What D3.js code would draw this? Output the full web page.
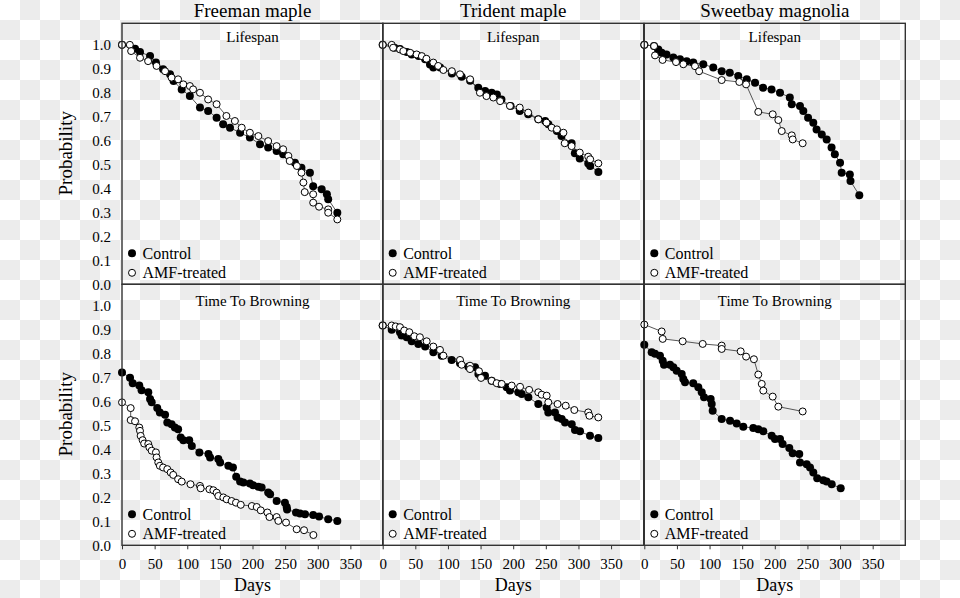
<!DOCTYPE html>
<html><head><meta charset="utf-8">
<script src="https://cdn.jsdelivr.net/npm/d3@7"></script>
<style>
body{margin:0;background:#fff}
svg{display:block}
text{font-family:"Liberation Serif","Times New Roman",serif;fill:#000}
</style>
</head><body>
<svg id="chart" width="960" height="598"></svg>
<script>
// ---------------- data ----------------
const species = ["Freeman maple", "Trident maple", "Sweetbay magnolia"];
const measures = ["Lifespan", "Time To Browning"];
const seriesNames = ["Control", "AMF-treated"];
const xTicks = [0, 50, 100, 150, 200, 250, 300, 350];
const yTickLabels = ["0.0","0.1","0.2","0.3","0.4","0.5","0.6","0.7","0.8","0.9","1.0"];

// [days, probability]
const freemanLifeControl = [[0,1.0],[20,0.984],[27.6,0.97],[43,0.953],[52,0.926],[63,0.898],[73.6,0.877],[79,0.849],[91.5,0.814],[104,0.786],[119.5,0.738],[132,0.724],[145,0.696],[155,0.668],[165.5,0.654],[181,0.633],[196,0.613],[211.5,0.585],[224,0.571],[237,0.557],[247,0.543],[265,0.508],[275,0.487],[288,0.466],[293,0.41],[306,0.397],[314,0.376],[316,0.355],[330,0.299]];
const freemanLifeAMF = [[0,1.0],[12,1.0],[14,0.974],[27.6,0.946],[40,0.932],[53,0.912],[66,0.89],[76,0.863],[86,0.856],[94,0.835],[104,0.828],[109,0.814],[119.5,0.80],[132,0.772],[145,0.752],[160,0.703],[173,0.682],[183.5,0.654],[196,0.633],[209,0.619],[224,0.598],[237,0.577],[247,0.564],[255,0.536],[257,0.515],[268,0.494],[275,0.466],[278,0.425],[280,0.385],[293,0.376],[293,0.341],[302,0.324],[316,0.313],[316,0.299],[330,0.271]];
const tridentLifeControl = [[0,1.0],[18,0.988],[26.5,0.983],[37,0.97],[44.5,0.96],[55,0.953],[65,0.94],[72.5,0.918],[77.6,0.905],[88,0.905],[106,0.88],[121,0.867],[134,0.85],[146.5,0.821],[157,0.807],[167,0.80],[175,0.793],[182,0.772],[196,0.745],[210,0.724],[223,0.71],[238.5,0.689],[249,0.682],[254,0.668],[267,0.64],[274,0.619],[289.5,0.589],[294.5,0.547],[302,0.525],[315,0.505],[318,0.494],[330.5,0.469]];
const tridentLifeAMF = [[0,1.0],[13.8,1.0],[16,0.988],[26.5,0.981],[31.6,0.974],[42,0.967],[52,0.96],[60,0.953],[67,0.942],[77.6,0.926],[85,0.912],[93,0.895],[106,0.89],[118.5,0.877],[134,0.856],[149,0.80],[159,0.786],[169.5,0.78],[180,0.765],[195,0.745],[210,0.738],[223,0.717],[238.5,0.689],[251,0.675],[259,0.654],[267,0.647],[277,0.633],[279,0.589],[289.5,0.577],[302,0.55],[315,0.533],[318,0.522],[330.5,0.505]];
const sweetbayLifeControl = [[0,1.0],[14.9,0.995],[21.5,0.981],[26.6,0.967],[34,0.96],[44.5,0.947],[54.7,0.94],[65,0.932],[75,0.926],[90.4,0.919],[105.7,0.905],[118.6,0.89],[131,0.884],[144,0.87],[157,0.856],[169.7,0.842],[182,0.821],[195,0.814],[208,0.80],[223,0.78],[226,0.752],[238.6,0.745],[243.7,0.724],[251,0.696],[259,0.675],[264,0.647],[272,0.626],[279.5,0.605],[287,0.571],[292,0.543],[300,0.508],[302.5,0.466],[315,0.459],[316,0.431],[329.5,0.372]];
const sweetbayLifeAMF = [[0,1.0],[15,0.995],[16.4,0.956],[28,0.937],[48.6,0.928],[59.8,0.919],[77.7,0.911],[84,0.89],[118.6,0.853],[145.6,0.845],[156,0.835],[174.7,0.72],[196.8,0.71],[205.4,0.686],[210.6,0.64],[226,0.622],[227.4,0.605],[242.7,0.589]];
const freemanBrownControl = [[0,0.722],[12.3,0.70],[16.4,0.677],[26.5,0.667],[30,0.648],[40.3,0.639],[43,0.611],[45.5,0.597],[54,0.573],[58,0.555],[66,0.545],[69.4,0.513],[76,0.506],[81,0.492],[86,0.485],[90,0.45],[94,0.439],[103,0.439],[107,0.415],[118.6,0.388],[132.5,0.381],[135,0.367],[147.6,0.36],[150.4,0.346],[163,0.332],[170,0.325],[175,0.286],[181,0.266],[186,0.262],[196,0.258],[201,0.251],[209,0.244],[214,0.241],[224,0.22],[227,0.213],[237,0.185],[249.7,0.178],[252.4,0.16],[253,0.15],[266.7,0.137],[272.8,0.133],[280.5,0.13],[293,0.127],[302,0.12],[316,0.109],[330,0.102]];
const freemanBrownAMF = [[0,0.597],[13.3,0.573],[13.3,0.523],[20,0.518],[26.5,0.492],[27.6,0.478],[28.6,0.457],[31.6,0.439],[34,0.425],[40.3,0.423],[42,0.409],[45.5,0.395],[52,0.388],[53,0.367],[55.6,0.346],[58,0.332],[63,0.325],[69.4,0.318],[74.6,0.304],[78.5,0.294],[86,0.276],[91.5,0.266],[105,0.255],[119.5,0.248],[120.6,0.238],[134,0.234],[140,0.23],[145,0.22],[147.6,0.206],[155.3,0.20],[160.4,0.192],[168,0.185],[174.7,0.178],[182,0.169],[199,0.164],[206.5,0.16],[212.6,0.146],[222.8,0.137],[226,0.118],[237,0.118],[239.6,0.102],[251.4,0.095],[267.7,0.067],[279,0.063],[293.3,0.043]];
const tridentBrownControl = [[0,0.918],[13.8,0.90],[26.5,0.89],[29,0.876],[36.8,0.869],[44.4,0.852],[54.6,0.841],[65,0.83],[77.6,0.806],[90.4,0.792],[105.7,0.774],[118.5,0.76],[131.2,0.746],[141.5,0.744],[146.6,0.715],[156.8,0.708],[167,0.687],[179.8,0.674],[190,0.66],[195,0.646],[207.8,0.639],[213,0.632],[223.2,0.618],[238.5,0.59],[251.3,0.576],[253.8,0.555],[264,0.555],[268,0.534],[274.3,0.527],[279.4,0.513],[289.7,0.506],[294.7,0.481],[302.4,0.476],[317.7,0.457],[330.4,0.448]];
const tridentBrownAMF = [[0,0.918],[13.8,0.918],[20,0.914],[26.5,0.911],[33,0.897],[40.8,0.89],[48.5,0.873],[57,0.869],[67.4,0.852],[77.6,0.83],[87.8,0.816],[93,0.792],[118.5,0.774],[121,0.754],[133.8,0.75],[133.8,0.736],[147.6,0.727],[150.7,0.699],[167,0.687],[174.7,0.677],[182.4,0.674],[197.7,0.667],[210.5,0.662],[224.4,0.649],[238.5,0.639],[243.7,0.629],[251.3,0.625],[253.8,0.597],[268,0.59],[280.5,0.583],[293.7,0.565],[315,0.555],[316.8,0.541],[330.4,0.534]];
const sweetbayBrownControl = [[0,0.838],[11.3,0.806],[16.4,0.80],[24,0.792],[28.2,0.771],[30.2,0.754],[39.4,0.754],[44.5,0.744],[49.6,0.729],[57.3,0.715],[59.8,0.695],[62.4,0.681],[75,0.677],[82.8,0.66],[88,0.639],[91.5,0.618],[101.7,0.611],[103.3,0.59],[104.8,0.562],[118.6,0.527],[131.4,0.52],[141.6,0.509],[151.7,0.495],[167,0.49],[174.7,0.485],[182.4,0.476],[195.2,0.457],[200.3,0.444],[208,0.444],[212,0.423],[222.2,0.406],[227.4,0.384],[237.5,0.381],[238.6,0.346],[248.9,0.339],[254,0.325],[259,0.304],[265,0.28],[274.3,0.272],[279.4,0.266],[287.2,0.255],[301,0.238]];
const sweetbayBrownAMF = [[0,0.922],[26.6,0.893],[28.2,0.862],[58.8,0.852],[89.5,0.841],[118.6,0.834],[118.6,0.82],[147.7,0.81],[156,0.788],[168,0.777],[174.7,0.713],[180,0.674],[182.4,0.646],[196.8,0.621],[205.4,0.579],[242.7,0.559]];

const panelData = [
  [[freemanLifeControl, freemanLifeAMF], [tridentLifeControl, tridentLifeAMF], [sweetbayLifeControl, sweetbayLifeAMF]],
  [[freemanBrownControl, freemanBrownAMF], [tridentBrownControl, tridentBrownAMF], [sweetbayBrownControl, sweetbayBrownAMF]]
];

// ---------------- layout ----------------
const svg = d3.select("#chart");
const defs = svg.append("defs");
const pat = defs.append("pattern").attr("id","checker").attr("patternUnits","userSpaceOnUse")
  .attr("width",40).attr("height",40);
pat.append("rect").attr("width",40).attr("height",40).attr("fill","#ffffff");
pat.append("rect").attr("x",20).attr("y",0).attr("width",20).attr("height",20).attr("fill","#ececec");
pat.append("rect").attr("x",0).attr("y",20).attr("width",20).attr("height",20).attr("fill","#ececec");
svg.append("rect").attr("width",960).attr("height",598).attr("fill","url(#checker)");

const panelLefts = [122, 382.7, 644.3];
const panelTops = [23.3, 284.3];
const pw = 261, ph = 261;
const rFill = 4, rOpen = 3.5;

const x = d3.scaleLinear().domain([0, 400]).range([0, pw]);
const y = d3.scaleLinear().domain([0, 1.09]).range([ph, 0]);
const line = d3.line().x(d => x(d[0])).y(d => y(d[1]));

measures.forEach((m, r) => {
  species.forEach((s, c) => {
    const g = svg.append("g").attr("transform", `translate(${panelLefts[c]},${panelTops[r]})`);
    const [ctrl, amf] = panelData[r][c];

    // lines
    [ctrl, amf].forEach(ser => {
      g.append("path").datum(ser).attr("d", line)
        .attr("fill","none").attr("stroke","#444").attr("stroke-width",0.9);
    });
    // points
    g.append("g").selectAll("circle").data(ctrl).join("circle")
      .attr("cx", d => x(d[0])).attr("cy", d => y(d[1])).attr("r", rFill)
      .attr("fill","#000");
    g.append("g").selectAll("circle").data(amf).join("circle")
      .attr("cx", d => x(d[0])).attr("cy", d => y(d[1])).attr("r", rOpen)
      .attr("fill","#fff").attr("stroke","#000").attr("stroke-width",1);

    // frame
    g.append("rect").attr("width", pw).attr("height", ph)
      .attr("fill","none").attr("stroke","#333").attr("stroke-width",1.4);

    // subtitle
    g.append("text").attr("x", pw/2).attr("y", r === 0 ? 18.4 : 21.4)
      .attr("text-anchor","middle").attr("font-size",15).text(m);

    // legend
    const leg = g.append("g").attr("transform", `translate(10,${ph - 31})`);
    leg.append("circle").attr("cx",0).attr("cy",0).attr("r",rFill).attr("fill","#000");
    leg.append("text").attr("x",10.5).attr("y",5.5).attr("font-size",16).text(seriesNames[0]);
    leg.append("circle").attr("cx",0).attr("cy",19.5).attr("r",rOpen)
      .attr("fill","#fff").attr("stroke","#000").attr("stroke-width",1);
    leg.append("text").attr("x",10.5).attr("y",25).attr("font-size",16).text(seriesNames[1]);

    // title
    if (r === 0) {
      svg.append("text").attr("x", panelLefts[c] + pw/2).attr("y", 17)
        .attr("text-anchor","middle").attr("font-size",19).text(s);
    }
    // x axis on bottom row
    if (r === 1) {
      const ax = g.append("g").attr("transform", `translate(0,${ph})`)
        .call(d3.axisBottom(x).tickValues(xTicks).tickSize(4).tickPadding(9).tickFormat(d3.format("d")));
      ax.select(".domain").remove();
      ax.selectAll("line").attr("stroke","#333");
      ax.selectAll("text").attr("font-size",15).attr("font-family",'"Liberation Serif",serif');
      svg.append("text").attr("x", panelLefts[c] + pw/2).attr("y", 591)
        .attr("text-anchor","middle").attr("font-size",18).text("Days");
    }
    // y axis on left column
    if (c === 0) {
      const ay = g.append("g")
        .call(d3.axisLeft(y).tickValues(d3.range(11).map(i => i/10)).tickSize(0).tickPadding(11)
          .tickFormat((d,i) => yTickLabels[i]));
      ay.select(".domain").remove();
      ay.selectAll("text").attr("font-size",15).attr("font-family",'"Liberation Serif",serif');
      svg.append("text").attr("transform", `translate(72,${panelTops[r] + 130}) rotate(-90)`)
        .attr("text-anchor","middle").attr("font-size",19).text("Probability");
    }
  });
});
</script>
</body></html>
